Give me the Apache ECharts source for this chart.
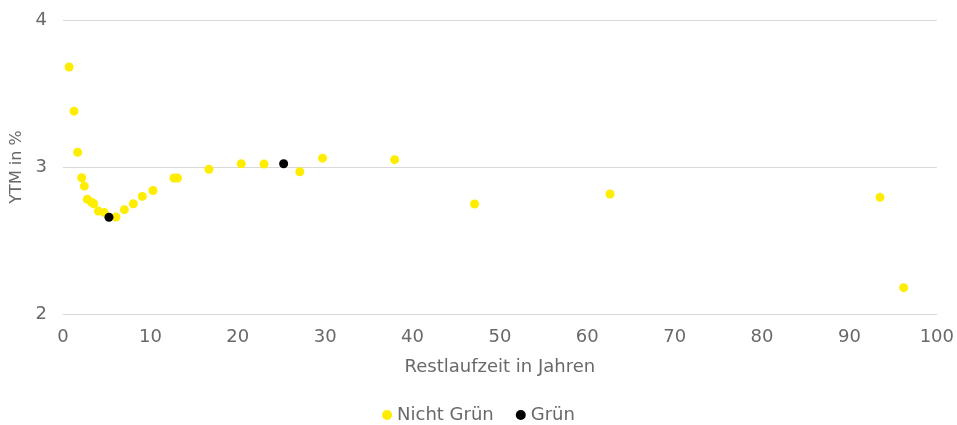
<!DOCTYPE html>
<html>
<head>
<meta charset="utf-8">
<script src="https://cdn.jsdelivr.net/npm/echarts@6/dist/echarts.min.js"></script>
<style>
  html, body { margin: 0; padding: 0; background: #fff; }
  #chart { width: 957px; height: 425px; }
</style>
</head>
<body>
<div id="chart"></div>
<script>
// Remaining maturity (years) and yield to maturity (%) per bond
const nichtGruenLaufzeit = [0.7, 1.26, 1.68, 2.14, 2.44, 2.78, 3.28, 3.51, 4.04, 4.73, 6.06, 7.02, 8.05, 9.08, 10.3, 12.7, 13.1, 16.7, 20.4, 23.0, 27.1, 29.7, 37.95, 47.1, 62.6, 93.5, 96.2];
const nichtGruenYTM      = [3.68, 3.38, 3.10, 2.927, 2.87, 2.78, 2.76, 2.75, 2.70, 2.69, 2.66, 2.71, 2.75, 2.80, 2.84, 2.925, 2.925, 2.985, 3.022, 3.02, 2.968, 3.06, 3.05, 2.748, 2.816, 2.794, 2.179];
const gruenLaufzeit = [5.26, 25.25];
const gruenYTM      = [2.658, 3.022];

const xTicks = { min: 0, max: 100, interval: 10 };
const yTicks = { min: 2, max: 4, interval: 1 };

const pairs = (xs, ys) => xs.map((x, i) => [x, ys[i]]);

const font = '"DejaVu Sans", sans-serif';
const grey = '#696969';

const chart = echarts.init(document.getElementById('chart'));
chart.setOption({
  animation: false,
  textStyle: { fontFamily: font },
  grid: { left: 63, right: 20, top: 20, bottom: 111 },
  xAxis: {
    type: 'value',
    min: xTicks.min, max: xTicks.max, interval: xTicks.interval,
    name: 'Restlaufzeit in Jahren',
    nameLocation: 'middle',
    nameGap: 44,
    nameTextStyle: { color: grey, fontSize: 18, fontFamily: font },
    axisLine: { show: true, lineStyle: { color: '#d9d9d9', width: 1 } },
    axisTick: { show: false },
    splitLine: { show: false },
    axisLabel: { color: grey, fontSize: 18, margin: 14, fontFamily: font }
  },
  yAxis: {
    type: 'value',
    min: yTicks.min, max: yTicks.max, interval: yTicks.interval,
    name: 'YTM in %',
    nameLocation: 'middle',
    nameGap: 31,
    nameRotate: 90,
    nameTextStyle: { color: grey, fontSize: 16, fontFamily: font },
    axisLine: { show: false },
    axisTick: { show: false },
    splitLine: { show: true, lineStyle: { color: '#d9d9d9', width: 1 } },
    axisLabel: { color: grey, fontSize: 18, margin: 16, fontFamily: font }
  },
  legend: {
    top: 401,
    left: 'center',
    itemWidth: 10, itemHeight: 10, itemGap: 22,
    icon: 'circle',
    textStyle: { color: grey, fontSize: 18, fontFamily: font },
    data: ['Nicht Grün', 'Grün']
  },
  series: [
    {
      name: 'Nicht Grün',
      type: 'scatter',
      symbolSize: 9,
      itemStyle: { color: '#FFED00', opacity: 1 },
      data: pairs(nichtGruenLaufzeit, nichtGruenYTM)
    },
    {
      name: 'Grün',
      type: 'scatter',
      symbolSize: 9,
      itemStyle: { color: '#000000', opacity: 1 },
      data: pairs(gruenLaufzeit, gruenYTM)
    }
  ]
});
</script>
</body>
</html>
